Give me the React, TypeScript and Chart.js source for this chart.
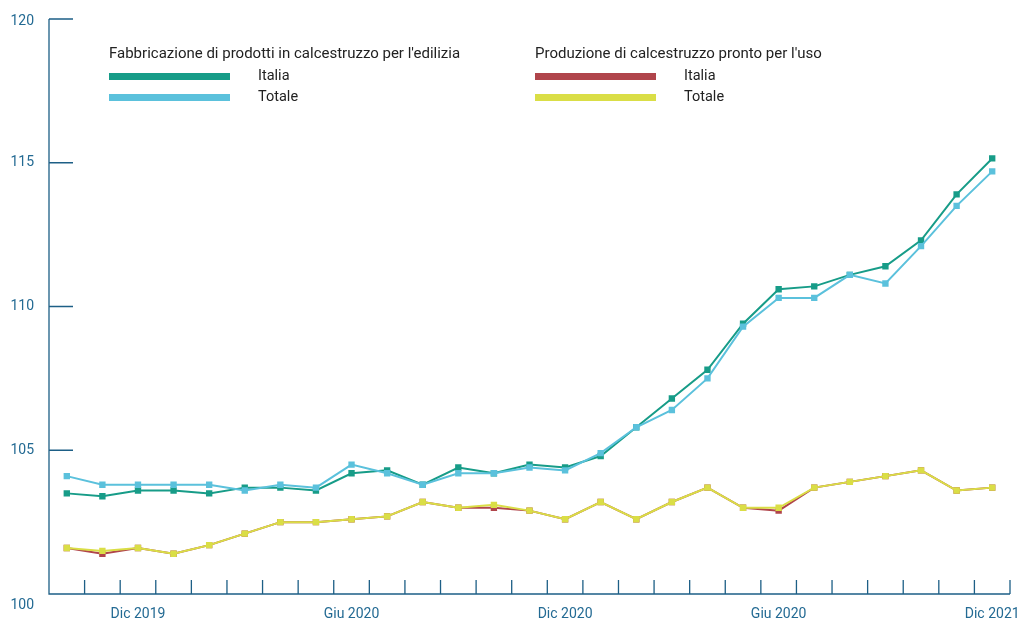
import React, { useEffect, useRef } from "react";
import { Chart, registerables } from "chart.js";

Chart.register(...registerables);

const categories = [
  "Ott 2019", "Nov 2019", "Dic 2019", "Gen 2020", "Feb 2020", "Mar 2020", "Apr 2020",
  "Mag 2020", "Giu 2020", "Lug 2020", "Ago 2020", "Set 2020", "Ott 2020", "Nov 2020",
  "Dic 2020", "Gen 2021", "Feb 2021", "Mar 2021", "Apr 2021", "Mag 2021", "Giu 2021",
  "Lug 2021", "Ago 2021", "Set 2021", "Ott 2021", "Nov 2021", "Dic 2021",
];

const xTickIndices = [2, 8, 14, 20, 26];
const xTickLabels = ["Dic 2019", "Giu 2020", "Dic 2020", "Giu 2020", "Dic 2021"];
const yTicks = [100, 105, 110, 115, 120];

const fabItalia = [
  103.5, 103.4, 103.6, 103.6, 103.5, 103.7, 103.7, 103.6,
  104.2, 104.3, 103.8, 104.4, 104.2, 104.5, 104.4, 104.8, 105.8,
  106.8, 107.8, 109.4, 110.6, 110.7, 111.1, 111.4, 112.3, 113.9, 115.15,
];
const fabTotale = [
  104.1, 103.8, 103.8, 103.8, 103.8, 103.6, 103.8, 103.7,
  104.5, 104.2, 103.8, 104.2, 104.2, 104.4, 104.3, 104.9, 105.8,
  106.4, 107.5, 109.3, 110.3, 110.3, 111.1, 110.8, 112.1, 113.5, 114.7,
];
const prodItalia = [
  101.6, 101.4, 101.6, 101.4, 101.7, 102.1, 102.5, 102.5,
  102.6, 102.7, 103.2, 103.0, 103.0, 102.9, 102.6, 103.2, 102.6,
  103.2, 103.7, 103.0, 102.9, 103.7, 103.9, 104.1, 104.3, 103.6, 103.7,
];
const prodTotale = [
  101.6, 101.5, 101.6, 101.4, 101.7, 102.1, 102.5, 102.5,
  102.6, 102.7, 103.2, 103.0, 103.1, 102.9, 102.6, 103.2, 102.6,
  103.2, 103.7, 103.0, 103.0, 103.7, 103.9, 104.1, 104.3, 103.6, 103.7,
];

const COL_FAB_IT = "#179c88";
const COL_FAB_TOT = "#5bc1dc";
const COL_PROD_IT = "#b0454b";
const COL_PROD_TOT = "#dade46";
const AXIS_COLOR = "#1d5f86";
const LABEL_COLOR = "#236a93";
const FONT = "Roboto, 'DejaVu Sans', sans-serif";

const legendGroups = [
  {
    title: "Fabbricazione di prodotti in calcestruzzo per l'edilizia",
    left: 109,
    items: [
      { label: "Italia", color: COL_FAB_IT },
      { label: "Totale", color: COL_FAB_TOT },
    ],
  },
  {
    title: "Produzione di calcestruzzo pronto per l'uso",
    left: 535,
    items: [
      { label: "Italia", color: COL_PROD_IT },
      { label: "Totale", color: COL_PROD_TOT },
    ],
  },
];

function ds(label: string, data: number[], color: string) {
  return {
    label,
    data,
    borderColor: color,
    backgroundColor: color,
    borderWidth: 2,
    pointStyle: "rect" as const,
    pointRadius: 4.5,
    pointBorderWidth: 0,
    pointBackgroundColor: color,
    fill: false,
    tension: 0,
  };
}

export default function App() {
  const ref = useRef<HTMLCanvasElement>(null);

  useEffect(() => {
    if (!ref.current) return;
    const axesPlugin = {
      id: "customAxes",
      beforeDatasetsDraw(chart: any) {
        const { ctx, chartArea: a, scales } = chart;
        const xs = scales.x;
        const ys = scales.y;
        ctx.save();
        ctx.strokeStyle = AXIS_COLOR;
        ctx.lineWidth = 1.3;
        ctx.beginPath();
        ctx.moveTo(a.left, a.top);
        ctx.lineTo(a.left, a.bottom);
        ctx.lineTo(a.right, a.bottom);
        yTicks.forEach((v) => {
          const py = ys.getPixelForValue(v);
          ctx.moveTo(a.left, py);
          ctx.lineTo(a.left + 24, py);
        });
        for (let i = 0; i <= categories.length; i++) {
          const px = xs.getPixelForValue(i - 0.5);
          ctx.moveTo(px, a.bottom);
          ctx.lineTo(px, a.bottom - 14);
        }
        ctx.stroke();

        ctx.fillStyle = LABEL_COLOR;
        ctx.font = `14px ${FONT}`;
        ctx.textAlign = "right";
        ctx.textBaseline = "middle";
        yTicks.forEach((v) => {
          const py = ys.getPixelForValue(v);
          const dy = v === 100 ? 11 : v === 120 ? 2 : 0;
          ctx.fillText(String(v), a.left - 15, py + dy);
        });
        ctx.textAlign = "center";
        ctx.textBaseline = "alphabetic";
        xTickIndices.forEach((idx, k) => {
          const px = xs.getPixelForValue(idx);
          ctx.fillText(xTickLabels[k], px, a.bottom + 24);
        });
        ctx.restore();
      },
    };

    const chart = new Chart(ref.current, {
      type: "line",
      data: {
        labels: categories,
        datasets: [
          ds("Produzione - Totale", prodTotale, COL_PROD_TOT),
          ds("Produzione - Italia", prodItalia, COL_PROD_IT),
          ds("Fabbricazione - Totale", fabTotale, COL_FAB_TOT),
          ds("Fabbricazione - Italia", fabItalia, COL_FAB_IT),
        ],
      },
      options: {
        animation: false,
        responsive: false,
        layout: { padding: { left: 49, right: 11, top: 19, bottom: 27 } },
        scales: {
          x: { type: "category", offset: true, display: false },
          y: { type: "linear", min: 100, max: 120, display: false },
        },
        plugins: {
          legend: { display: false },
          tooltip: { enabled: false },
        },
      },
      plugins: [axesPlugin],
    });
    return () => chart.destroy();
  }, []);

  return (
    <div style={{ position: "fixed", left: 0, top: 0, width: 1021, height: 621, background: "#fff" }}>
      <canvas ref={ref} width={1021} height={621} style={{ position: "absolute", left: 0, top: 0 }} />
      {legendGroups.map((g) => (
        <div key={g.title} style={{ position: "absolute", left: g.left, top: 44, fontFamily: FONT, color: "#222" }}>
          <div style={{ fontSize: 15, lineHeight: "18px", whiteSpace: "nowrap" }}>{g.title}</div>
          {g.items.map((it, i) => (
            <div key={it.label} style={{ position: "absolute", top: 22 + i * 21, left: 0, height: 20, display: "flex", alignItems: "center", whiteSpace: "nowrap" }}>
              <span style={{ display: "inline-block", width: 121, height: 7, background: it.color }} />
              <span style={{ marginLeft: 28, fontSize: 14.5, lineHeight: "18px" }}>{it.label}</span>
            </div>
          ))}
        </div>
      ))}
    </div>
  );
}
